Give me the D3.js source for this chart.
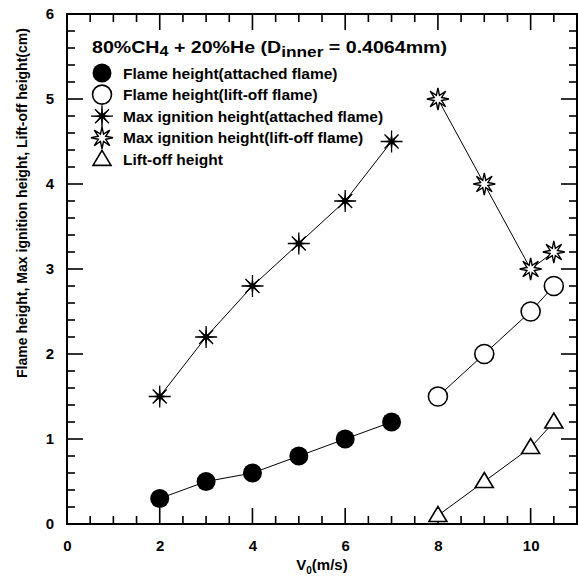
<!DOCTYPE html>
<html>
<head>
<meta charset="utf-8">
<script src="https://cdn.jsdelivr.net/npm/d3@7"></script>
<style>
  html, body { margin: 0; padding: 0; background: #fff; }
  svg { display: block; }
  text { font-family: Arial, "Liberation Sans", sans-serif; font-weight: bold; fill: #000; }
</style>
</head>
<body>
<div id="chart"></div>
<script>
// data
const attachedV = [2, 3, 4, 5, 6, 7];
const flameAttached = [0.3, 0.5, 0.6, 0.8, 1.0, 1.2];
const igniteAttached = [1.5, 2.2, 2.8, 3.3, 3.8, 4.5];

const liftV = [8, 9, 10, 10.5];
const flameLift = [1.5, 2.0, 2.5, 2.8];
const igniteLift = [5.0, 4.0, 3.0, 3.2];
const liftHeight = [0.1, 0.5, 0.9, 1.2];

const xTicks = [0, 2, 4, 6, 8, 10];
const yTicks = [0, 1, 2, 3, 4, 5, 6];
const xMinorTicks = [0.5, 1, 1.5, 2.5, 3, 3.5, 4.5, 5, 5.5, 6.5, 7, 7.5, 8.5, 9, 9.5, 10.5];
const yMinorTicks = [0.2, 0.4, 0.6, 0.8, 1.2, 1.4, 1.6, 1.8, 2.2, 2.4, 2.6, 2.8,
  3.2, 3.4, 3.6, 3.8, 4.2, 4.4, 4.6, 4.8, 5.2, 5.4, 5.6, 5.8];

const legendLabels = [
  'Flame height(attached flame)',
  'Flame height(lift-off flame)',
  'Max ignition height(attached flame)',
  'Max ignition height(lift-off flame)',
  'Lift-off height'
];

const W = 578, H = 579;
const margin = { top: 14, right: 1, bottom: 55, left: 67 };

const svg = d3.select('#chart').append('svg')
  .attr('width', W)
  .attr('height', H);

const x = d3.scaleLinear().domain([0, 11]).range([margin.left, W - margin.right]);
const y = d3.scaleLinear().domain([0, 6]).range([H - margin.bottom, margin.top]);

const x0 = x.range()[0], x1 = x.range()[1];
const y0 = y.range()[0], y1 = y.range()[1];

// tick labels via d3 axes
function labelAxis(axisFn, scale, pos, pad) {
  const g = svg.append('g').attr('transform', pos)
    .call(axisFn(scale).tickValues(scale === x ? xTicks : yTicks)
      .tickSize(0).tickPadding(pad).tickFormat(d3.format('d')));
  g.select('.domain').remove();
  g.selectAll('.tick line').remove();
  g.selectAll('.tick text')
    .attr('font-size', 15)
    .attr('font-weight', 'bold')
    .attr('font-family', 'Arial, "Liberation Sans", sans-serif');
}
labelAxis(d3.axisBottom, x, `translate(0,${y0})`, 16);
labelAxis(d3.axisLeft, y, `translate(${x0},0)`, 13);

// inward tick marks as thin filled rects (major 16px / minor 8px)
const tw = 1.6;
function xTickRects(values, len, top) {
  svg.append('g').selectAll('rect').data(values).join('rect')
    .attr('x', d => x(d) - tw / 2)
    .attr('y', top ? y1 : y0 - len)
    .attr('width', tw).attr('height', len)
    .attr('fill', '#000');
}
function yTickRects(values, len, right) {
  svg.append('g').selectAll('rect').data(values).join('rect')
    .attr('x', right ? x1 - len : x0)
    .attr('y', d => y(d) - tw / 2)
    .attr('width', len).attr('height', tw)
    .attr('fill', '#000');
}
xTickRects(xTicks, 16, false);
xTickRects(xMinorTicks, 8, false);
xTickRects(xTicks, 16, true);
xTickRects(xMinorTicks, 8, true);
yTickRects(yTicks, 16, false);
yTickRects(yMinorTicks, 8, false);
yTickRects(yTicks, 16, true);
yTickRects(yMinorTicks, 8, true);

// frame
svg.append('rect')
  .attr('x', x0).attr('y', y1)
  .attr('width', x1 - x0).attr('height', y0 - y1)
  .attr('fill', 'none').attr('stroke', '#000').attr('stroke-width', 2);

// axis titles
const xt = svg.append('text')
  .attr('x', (x0 + x1) / 2).attr('y', 570)
  .attr('text-anchor', 'middle').style('font-size', '15px');
xt.append('tspan').text('V');
xt.append('tspan').text('0').style('font-size', '10px').attr('dy', 4);
xt.append('tspan').text('(m/s)').attr('dy', -4);

svg.append('text')
  .attr('transform', `translate(27,203) rotate(-90)`)
  .attr('text-anchor', 'middle')
  .attr('textLength', 350).attr('lengthAdjust', 'spacingAndGlyphs')
  .style('font-size', '14.5px')
  .text('Flame height, Max ignition height, Lift-off height(cm)');

// marker shapes
function starPath(n, rOut, rIn) {
  const pts = [];
  for (let i = 0; i < n * 2; i++) {
    const r = i % 2 === 0 ? rOut : rIn;
    const a = Math.PI * i / n - Math.PI / 2;
    pts.push([r * Math.cos(a), r * Math.sin(a)]);
  }
  return 'M' + pts.map(p => p.join(',')).join('L') + 'Z';
}

const markers = {
  filledCircle: g => g.append('circle').attr('r', 9.5).attr('fill', '#000'),
  openCircle: g => g.append('circle').attr('r', 9.5).attr('fill', '#fff').attr('stroke', '#000').attr('stroke-width', 1.6),
  filledStar: g => {
    g.append('path').attr('d', starPath(8, 10, 2.8)).attr('fill', '#000');
    g.append('path').attr('d', 'M0,-11V11M-11,0H11M-7,-7L7,7M-7,7L7,-7')
      .attr('stroke', '#000').attr('stroke-width', 1.3);
  },
  openStar: g => g.append('path').attr('d', starPath(8, 11, 4)).attr('fill', '#fff')
    .attr('stroke', '#000').attr('stroke-width', 1.4),
  triangle: g => g.append('path').attr('d', 'M0,-9L9,6L-9,6Z').attr('fill', '#fff')
    .attr('stroke', '#000').attr('stroke-width', 1.6)
};

const series = [
  { xs: attachedV, ys: flameAttached, m: 'filledCircle' },
  { xs: liftV, ys: flameLift, m: 'openCircle' },
  { xs: attachedV, ys: igniteAttached, m: 'filledStar' },
  { xs: liftV, ys: igniteLift, m: 'openStar' },
  { xs: liftV, ys: liftHeight, m: 'triangle' }
];

const lineGen = d3.line().x(d => x(d[0])).y(d => y(d[1]));

series.forEach(s => {
  const pts = s.xs.map((v, i) => [v, s.ys[i]]);
  svg.append('path').datum(pts)
    .attr('d', lineGen)
    .attr('fill', 'none').attr('stroke', '#000').attr('stroke-width', 1);
  svg.append('g').selectAll('g').data(pts).join('g')
    .attr('transform', d => `translate(${x(d[0])},${y(d[1])})`)
    .each(function () { markers[s.m](d3.select(this)); });
});

// legend
const title = svg.append('text').attr('x', 92).attr('y', 53)
  .attr('textLength', 355).attr('lengthAdjust', 'spacingAndGlyphs')
  .style('font-size', '17px');
title.append('tspan').text('80%CH');
title.append('tspan').text('4').style('font-size', '14px').attr('dy', 3);
title.append('tspan').text(' + 20%He (D').attr('dy', -3);
title.append('tspan').text('inner').style('font-size', '15px').attr('dy', 4);
title.append('tspan').text(' = 0.4064mm)').attr('dy', -4);

const legendY0 = 73, legendStep = 21.6;
legendLabels.forEach((lab, i) => {
  const cy = legendY0 + i * legendStep;
  const g = svg.append('g').attr('transform', `translate(102,${cy})`);
  markers[series[i].m](g);
  svg.append('text').attr('x', 123).attr('y', cy + 5.5).style('font-size', '15.5px').text(lab);
});
</script>
</body>
</html>
